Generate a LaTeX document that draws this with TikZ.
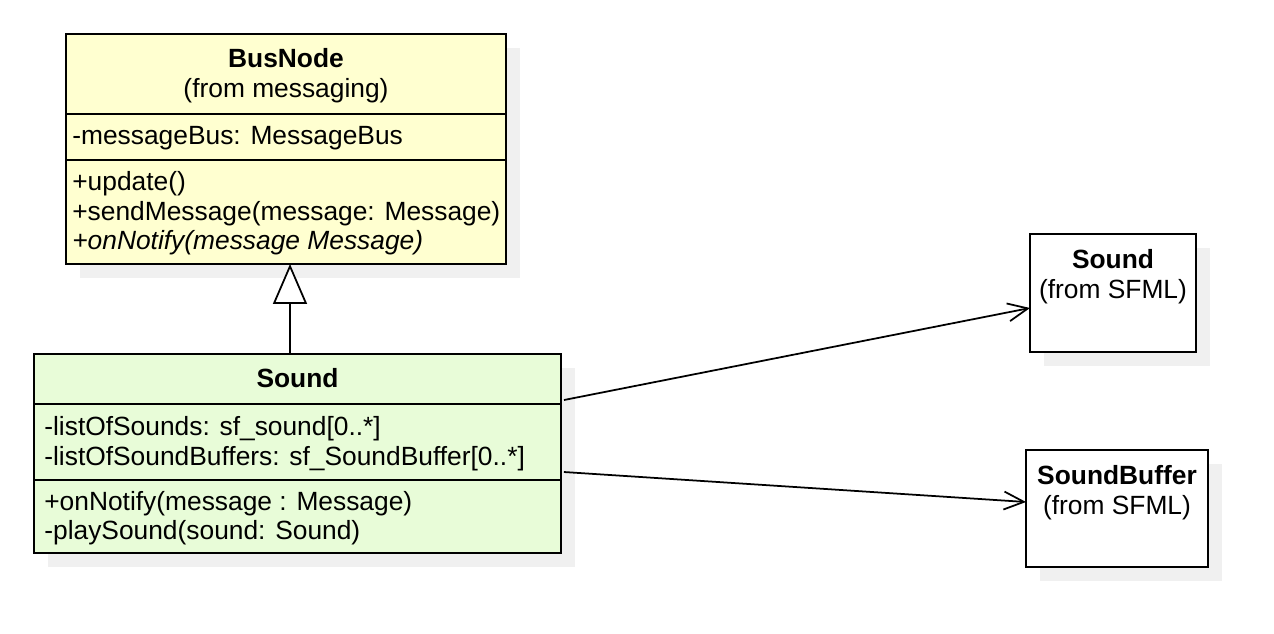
\documentclass[tikz,border=0pt]{standalone}
\usepackage{fontspec}
\setmainfont{Liberation Sans}
\usetikzlibrary{arrows.meta, positioning, calc, shadows}

\definecolor{busyellow}{RGB}{255,255,208}
\definecolor{soundgreen}{RGB}{232,252,216}
\definecolor{shadowgray}{RGB}{240,240,240}

\begin{document}
\begin{tikzpicture}[
        x=0.02cm, y=-0.02cm,
        font=\fontsize{15}{17}\selectfont,
        classbox/.style={rectangle, draw=black, line width=1.2pt, inner sep=0pt, outer sep=0pt,
            drop shadow={shadow xshift=0.28cm, shadow yshift=-0.28cm, fill=shadowgray, opacity=1}},
        member/.style={anchor=base west, inner sep=0pt},
        title/.style={anchor=base, inner sep=0pt, font=\fontsize{15}{17}\selectfont\bfseries},
        origin/.style={anchor=base, inner sep=0pt},
        divider/.style={line width=1.2pt},
        inherit/.style={-{Triangle[open, fill=white, length=0.8cm, width=0.68cm]}, line width=1pt},
        assoc/.style={-{Straight Barb[length=0.4cm, width=0.36cm]}, line width=1pt},
    ]
    \useasboundingbox (0,0) rectangle (1274,634);

    %% ---- BusNode (from messaging) ----
    \node[classbox, fill=busyellow, minimum width=8.8cm, minimum height=4.6cm]
        (busnode) at (286,149) {};
    \node[title] (busnodeName) at (286,68) {BusNode};
    \node[origin] (busnodeFrom) at (286,98) {(from messaging)};
    \draw[divider] ($(busnode.north west)+(0,80)$) -- ($(busnode.north east)+(0,80)$);
    \draw[divider] ($(busnode.north west)+(0,126)$) -- ($(busnode.north east)+(0,126)$);
    \node[member] (busnodeAttr) at (72,145) {-messageBus: MessageBus};
    \node[member] (busnodeUpdate) at (72,191) {+update()};
    \node[member] (busnodeSend) at (72,221) {+sendMessage(message: Message)};
    \node[member, font=\fontsize{15}{17}\selectfont\itshape] (busnodeNotify) at (72,250)
        {+onNotify(message Message)};

    %% ---- Sound ----
    \node[classbox, fill=soundgreen, minimum width=10.54cm, minimum height=3.98cm]
        (sound) at (297.5,453.5) {};
    \node[title] (soundName) at (297.5,388) {Sound};
    \draw[divider] ($(sound.north west)+(0,50)$) -- ($(sound.north east)+(0,50)$);
    \draw[divider] ($(sound.north west)+(0,126)$) -- ($(sound.north east)+(0,126)$);
    \node[member] (soundList) at (44,436) {-listOfSounds: sf\_sound[0..*]};
    \node[member] (soundBufList) at (44,465) {-listOfSoundBuffers: sf\_SoundBuffer[0..*]};
    \node[member] (soundNotify) at (44,510) {+onNotify(message : Message)};
    \node[member] (soundPlay) at (44,540) {-playSound(sound: Sound)};

    %% ---- SFML classes ----
    \node[classbox, fill=white, minimum width=3.32cm, minimum height=2.36cm]
        (sfsound) at (1113,293) {};
    \node[title] (sfsoundName) at (1113,269) {Sound};
    \node[origin] (sfsoundFrom) at (1113,299) {(from SFML)};

    \node[classbox, fill=white, minimum width=3.64cm, minimum height=2.34cm]
        (sfbuffer) at (1117,508.5) {};
    \node[title] (sfbufferName) at (1117,484) {SoundBuffer};
    \node[origin] (sfbufferFrom) at (1117,514) {(from SFML)};

    %% ---- Relations ----
    \coordinate (genbase) at ($(busnode.south)+(4,0)$);
    \draw[inherit] (sound.north -| genbase) -- (genbase);
    \draw[assoc] ($(sound.north east)+(3,46)$) -- ($(sfsound.west)+(0,15)$);
    \draw[assoc] ($(sound.north east)+(3,118)$) -- ($(sfbuffer.west)+(0,-6.5)$);

\end{tikzpicture}
\end{document}
